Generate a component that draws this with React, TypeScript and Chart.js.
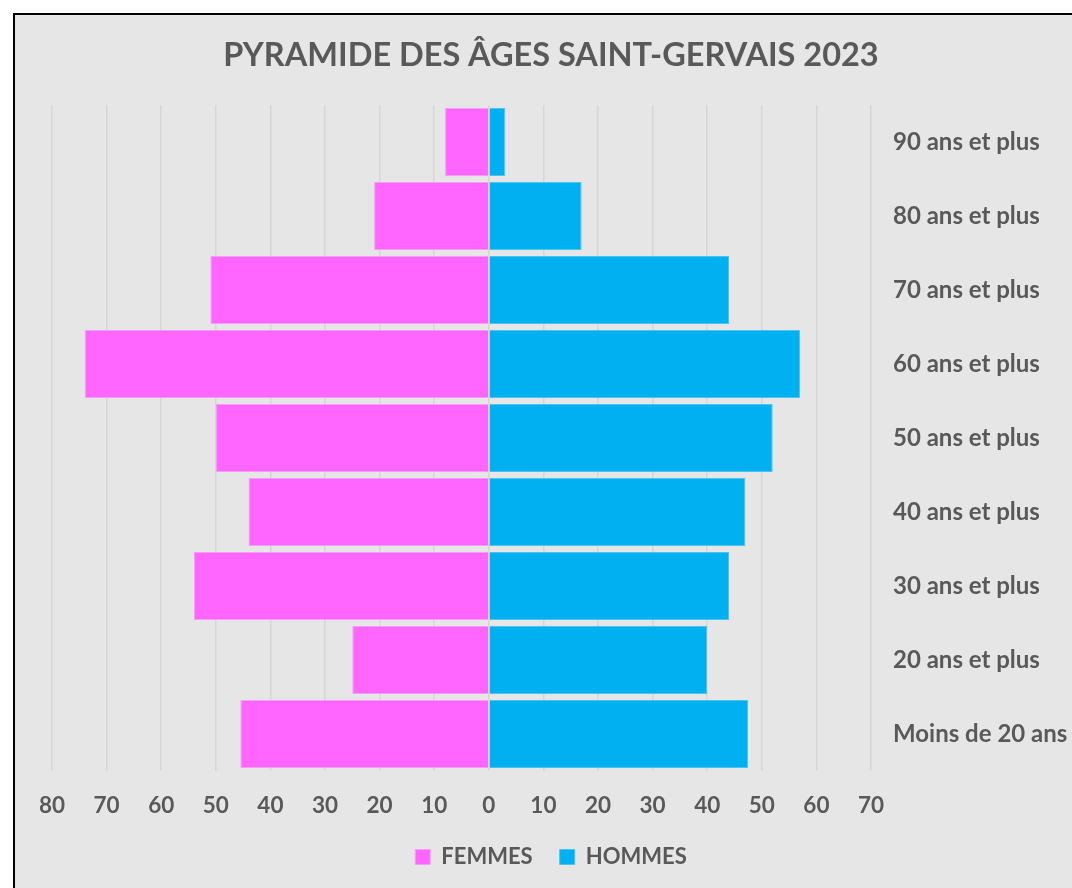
import React, { useEffect, useRef } from "react";
import { Chart, registerables } from "chart.js";

Chart.register(...registerables);

const categories = [
  "90 ans et plus",
  "80 ans et plus",
  "70 ans et plus",
  "60 ans et plus",
  "50 ans et plus",
  "40 ans et plus",
  "30 ans et plus",
  "20 ans et plus",
  "Moins de 20 ans",
];
const femmes = [8, 21, 51, 74, 50, 44, 54, 25, 45.5];
const hommes = [3, 17, 44, 57, 52, 47, 44, 40, 47.5];
const xMin = -80;
const xMax = 70;
const xStep = 10;

const FONT = "Lato, 'Open Sans', sans-serif";
const TEXT = "#595959";

export default function App() {
  const ref = useRef<HTMLCanvasElement | null>(null);
  useEffect(() => {
    if (!ref.current) return;
    const chart = new Chart(ref.current, {
      type: "bar",
      data: {
        labels: categories,
        datasets: [
          {
            label: "FEMMES",
            data: femmes.map((v) => -v),
            backgroundColor: "#ff66ff",
            borderColor: "#f59cf5",
            borderWidth: 1,
            barPercentage: 0.92,
            categoryPercentage: 1,
          },
          {
            label: "HOMMES",
            data: hommes,
            backgroundColor: "#00b0f0",
            borderColor: "#4cc4f0",
            borderWidth: 1,
            barPercentage: 0.92,
            categoryPercentage: 1,
          },
        ],
      },
      options: {
        indexAxis: "y",
        animation: false,
        responsive: false,
        maintainAspectRatio: false,
        layout: { padding: { left: 0, right: 0, top: 0, bottom: 10 } },
        plugins: {
          title: {
            display: true,
            text: "PYRAMIDE DES ÂGES SAINT-GERVAIS 2023",
            color: TEXT,
            font: { family: FONT, size: 32.5, weight: "bold" },
            padding: { top: 21, bottom: 30 },
          },
          legend: {
            display: true,
            position: "bottom",
            labels: {
              color: TEXT,
              font: { family: FONT, size: 22, weight: "bold" },
              boxWidth: 15,
              boxHeight: 15,
              padding: 27,
            },
          },
          tooltip: { enabled: false },
        },
        scales: {
          x: {
            type: "linear",
            stacked: true,
            min: xMin,
            max: xMax,
            ticks: {
              stepSize: xStep,
              color: TEXT,
              padding: 21,
              font: { family: FONT, size: 22.5, weight: "bold" },
              callback: (v: any) => String(Math.abs(Number(v))),
            },
            grid: { color: "#d6d6d6", lineWidth: 1.5, drawTicks: false },
            border: { display: false },
            afterFit: (s: any) => {
              s.height = 48;
            },
          },
          y: {
            stacked: true,
            position: "right",
            ticks: {
              color: TEXT,
              padding: 22,
              font: { family: FONT, size: 24, weight: "bold" },
              crossAlign: "near",
            },
            grid: { display: false, drawTicks: false },
            border: { display: false },
            afterFit: (s: any) => {
              s.width = 216;
            },
          },
          yLeft: {
            type: "category",
            position: "left",
            display: true,
            ticks: { display: false },
            grid: { display: false, drawTicks: false },
            border: { display: false },
            afterFit: (s: any) => {
              s.width = 37;
            },
          },
        },
      },
    } as any);
    return () => chart.destroy();
  }, []);

  return (
    <div
      style={{
        position: "fixed",
        left: 0,
        top: 0,
        width: 1072,
        height: 888,
        overflow: "hidden",
        background: "#ffffff",
      }}
    >
      <div
        style={{
          position: "absolute",
          left: 13,
          top: 13,
          width: 1100,
          height: 900,
          border: "2px solid #000",
          background: "#e6e6e6",
        }}
      >
        <canvas ref={ref} width={1072} height={873} style={{ display: "block" }} />
      </div>
    </div>
  );
}
